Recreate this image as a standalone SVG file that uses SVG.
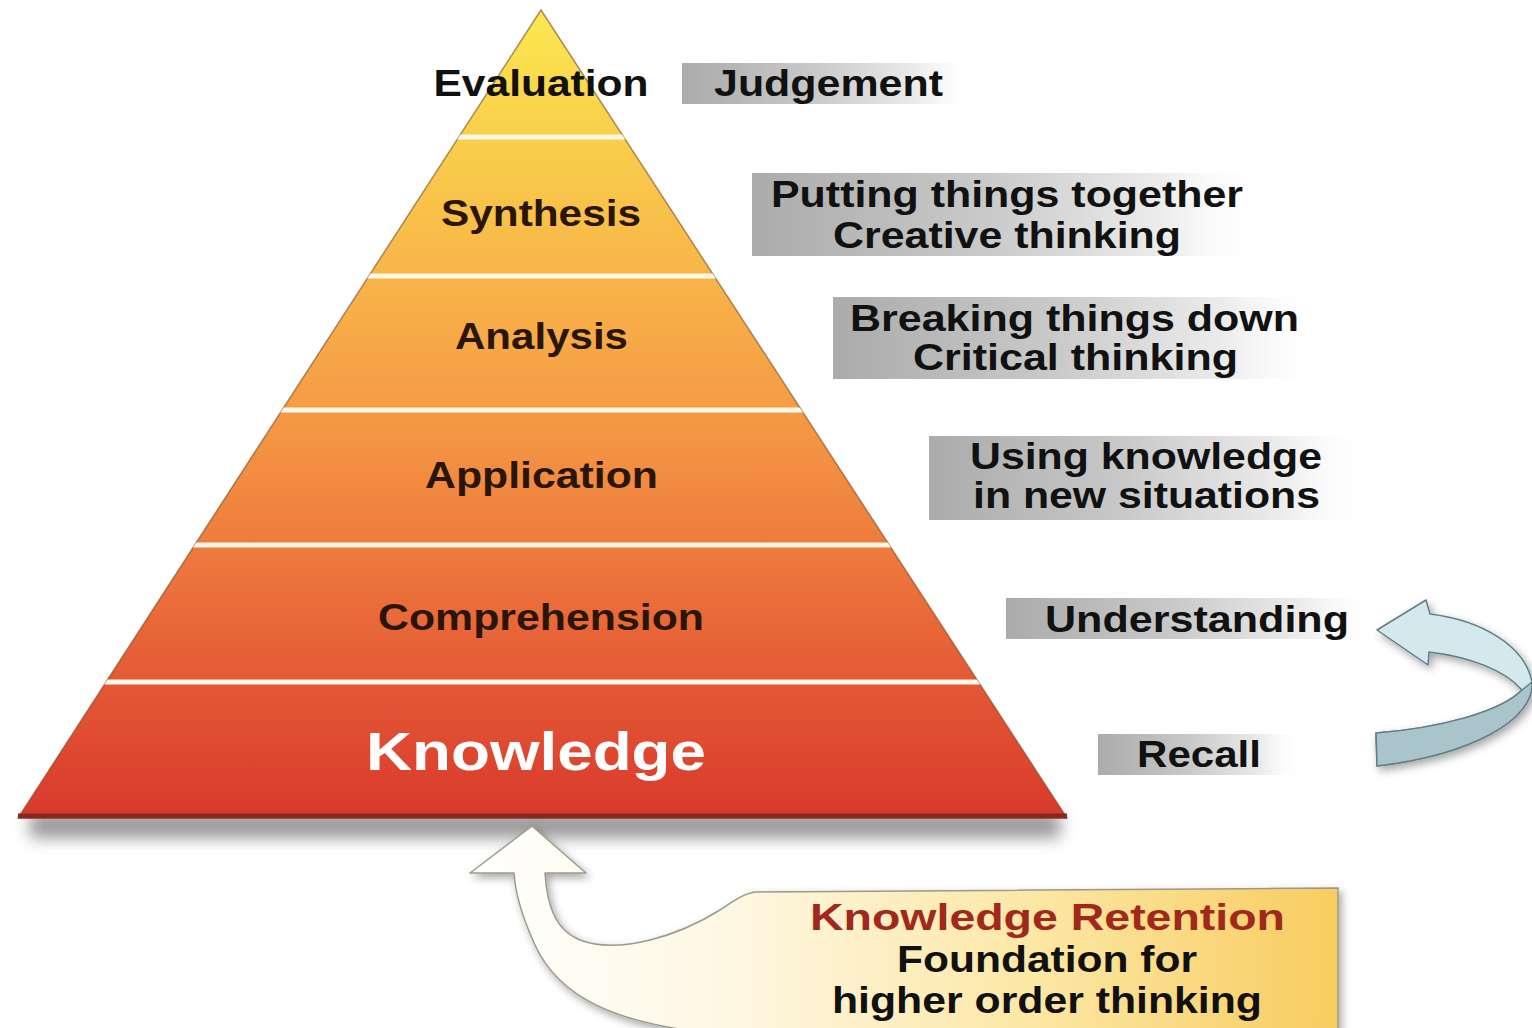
<svg xmlns="http://www.w3.org/2000/svg" width="1532" height="1028" viewBox="0 0 1532 1028">
<defs>
<style>
.t{font-family:"Liberation Sans",Arial,sans-serif;font-weight:bold;font-size:36px;text-anchor:middle;fill:#111;}
.lvl{fill:#2a1608;}
.sep{stroke:#FFF8E6;stroke-width:5;}
.box{fill:url(#gbox);}
</style>
<linearGradient id="gpyr" x1="0" y1="10" x2="0" y2="818" gradientUnits="userSpaceOnUse">
<stop offset="0" stop-color="#FBE850"/>
<stop offset="0.15" stop-color="#F9D04B"/>
<stop offset="0.33" stop-color="#F8B549"/>
<stop offset="0.5" stop-color="#F59A45"/>
<stop offset="0.66" stop-color="#EE7C3D"/>
<stop offset="0.82" stop-color="#E55B36"/>
<stop offset="1" stop-color="#D8392C"/>
</linearGradient>
<linearGradient id="gbox" x1="0" y1="0" x2="1" y2="0">
<stop offset="0" stop-color="#ababab"/>
<stop offset="0.45" stop-color="#c9c9c9"/>
<stop offset="0.8" stop-color="#ececec"/>
<stop offset="1" stop-color="#ffffff" stop-opacity="0"/>
</linearGradient>
<linearGradient id="gret" x1="470" y1="0" x2="1338" y2="0" gradientUnits="userSpaceOnUse">
<stop offset="0" stop-color="#ffffff"/>
<stop offset="0.3" stop-color="#FEF7E2"/>
<stop offset="0.65" stop-color="#FCE7A4"/>
<stop offset="1" stop-color="#F8CC60"/>
</linearGradient>
<clipPath id="cpyr"><polygon points="541,10 1067,818 18,818"/></clipPath>
<filter id="blur" x="-10%" y="-100%" width="120%" height="300%"><feGaussianBlur stdDeviation="8"/></filter>
<filter id="ds" x="-20%" y="-20%" width="140%" height="140%"><feDropShadow dx="3" dy="4" stdDeviation="4" flood-color="#000" flood-opacity="0.35"/></filter>
</defs>
<rect width="1532" height="1028" fill="#ffffff"/>

<g id="pyramid">
<rect x="30" y="812" width="1030" height="26" fill="#444" opacity="0.55" filter="url(#blur)"/>
<polygon points="541,10 1067,818 18,818" fill="url(#gpyr)" stroke="#7a4a22" stroke-opacity="0.6" stroke-width="1.5"/>
<g clip-path="url(#cpyr)">
<line class="sep" x1="0" y1="137" x2="1100" y2="137"/>
<line class="sep" x1="0" y1="276" x2="1100" y2="276"/>
<line class="sep" x1="0" y1="410" x2="1100" y2="410"/>
<line class="sep" x1="0" y1="545" x2="1100" y2="545"/>
<line class="sep" x1="0" y1="682" x2="1100" y2="682"/>
</g>
<line x1="18" y1="816" x2="1067" y2="816" stroke="#8a2620" stroke-width="5"/>
</g>

<g id="level-evaluation"><text class="t" x="541" y="96" textLength="215" lengthAdjust="spacingAndGlyphs">Evaluation</text></g>
<g id="level-synthesis"><text class="t lvl" x="541" y="226" textLength="200" lengthAdjust="spacingAndGlyphs">Synthesis</text></g>
<g id="level-analysis"><text class="t lvl" x="541.5" y="349" textLength="173" lengthAdjust="spacingAndGlyphs">Analysis</text></g>
<g id="level-application"><text class="t lvl" x="541.5" y="488" textLength="233" lengthAdjust="spacingAndGlyphs">Application</text></g>
<g id="level-comprehension"><text class="t lvl" x="541" y="630" textLength="326" lengthAdjust="spacingAndGlyphs">Comprehension</text></g>
<g id="level-knowledge"><text class="t" x="536" y="770" style="font-size:53px;fill:#fff" textLength="340" lengthAdjust="spacingAndGlyphs">Knowledge</text></g>

<g id="label-judgement">
<rect class="box" x="682" y="63" width="295" height="41"/>
<text class="t" x="828.5" y="96" textLength="229" lengthAdjust="spacingAndGlyphs">Judgement</text>
</g>
<g id="label-putting">
<rect class="box" x="752" y="173" width="515" height="83"/>
<text class="t" x="1007" y="207" textLength="472" lengthAdjust="spacingAndGlyphs">Putting things together</text>
<text class="t" x="1007" y="248" textLength="348" lengthAdjust="spacingAndGlyphs">Creative thinking</text>
</g>
<g id="label-breaking">
<rect class="box" x="833" y="297" width="490" height="82"/>
<text class="t" x="1074.5" y="331" textLength="449" lengthAdjust="spacingAndGlyphs">Breaking things down</text>
<text class="t" x="1075.5" y="370" textLength="325" lengthAdjust="spacingAndGlyphs">Critical thinking</text>
</g>
<g id="label-using">
<rect class="box" x="929" y="436" width="440" height="84"/>
<text class="t" x="1146" y="469" textLength="352" lengthAdjust="spacingAndGlyphs">Using knowledge</text>
<text class="t" x="1146.5" y="508" textLength="347" lengthAdjust="spacingAndGlyphs">in new situations</text>
</g>
<g id="label-understanding">
<rect class="box" x="1006" y="598" width="370" height="41"/>
<text class="t" x="1197" y="632" textLength="304" lengthAdjust="spacingAndGlyphs">Understanding</text>
</g>
<g id="label-recall">
<rect class="box" x="1098" y="734" width="205" height="41"/>
<text class="t" x="1199" y="767" textLength="124" lengthAdjust="spacingAndGlyphs">Recall</text>
</g>

<g id="connectors">
<g id="cycle-arrow" filter="url(#ds)">
<path d="M 1377 630 L 1426 600 L 1430 614 C 1480 620 1525 645 1532 682 C 1535 720 1470 755 1377 766 L 1376 733 C 1440 728 1500 712 1522 690 C 1505 670 1470 657 1429 652 L 1428 665 Z" fill="#D4E9ED" stroke="#5f7f85" stroke-width="1.5" stroke-linejoin="round"/>
<path d="M 1532 682 C 1535 720 1470 755 1377 766 L 1376 733 C 1440 728 1500 712 1522 690 Z" fill="#A9C5CB" stroke="#5f7f85" stroke-width="1.5" stroke-linejoin="round"/>
</g>
<g id="retention-arrow" filter="url(#ds)">
<path d="M 532 826 L 586 873 L 545 873 C 547 905 555 930 580 940 C 620 955 680 935 720 910 C 735 900 745 893 756 892 L 1338 888 L 1338 1032 L 700 1032 C 620 1022 560 1000 535 945 C 520 912 515 890 514 873 L 470 873 Z" fill="url(#gret)" stroke="#9a9a8a" stroke-width="1.5" stroke-linejoin="round"/>
</g>
</g>

<g id="retention-box">
<text class="t" x="1047.5" y="930" style="fill:#A0281C" textLength="475" lengthAdjust="spacingAndGlyphs">Knowledge Retention</text>
<text class="t" x="1047" y="972" textLength="300" lengthAdjust="spacingAndGlyphs">Foundation for</text>
<text class="t" x="1047" y="1013" textLength="430" lengthAdjust="spacingAndGlyphs">higher order thinking</text>
</g>
</svg>
